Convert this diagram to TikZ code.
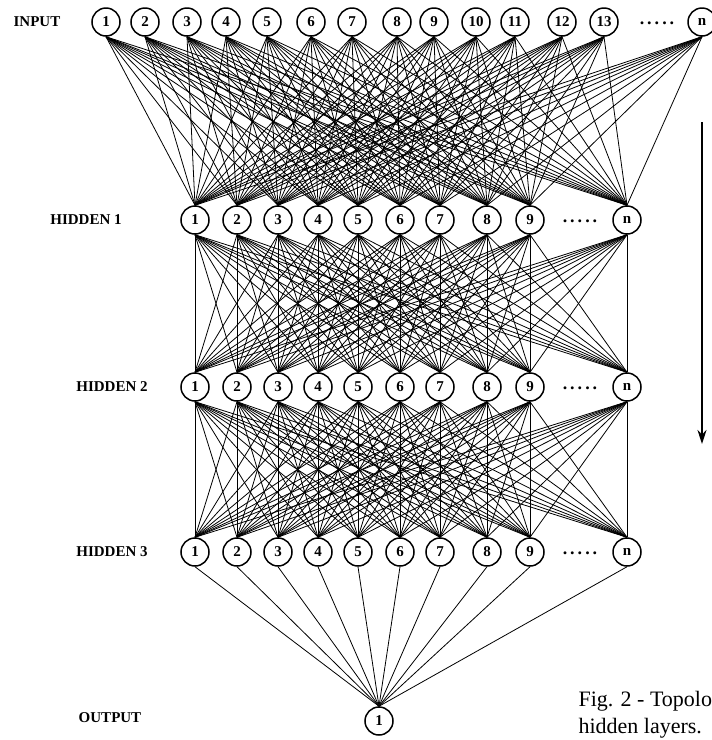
\documentclass[tikz,border=0pt]{standalone}
\usepackage{fontspec}
\setmainfont{Liberation Serif}
\usetikzlibrary{arrows.meta}
\tikzset{neuron/.style={circle,draw,line width=1.5pt,minimum size=28pt,inner sep=0pt,
font=\bfseries\fontsize{15}{15}\selectfont},
layerlabel/.style={font=\bfseries\fontsize{15}{15}\selectfont},
moredots/.style={font=\bfseries\fontsize{18}{18}\selectfont},
synapse/.style={line width=0.8pt},
caption/.style={anchor=base west,font=\fontsize{22}{28}\selectfont}}

\begin{document}
\begin{tikzpicture}[x=1pt,y=-1pt]
    \useasboundingbox (0,0) rectangle (712,740);
    \clip (0,0) rectangle (712,740);
    % layer names
    \node[layerlabel] (name-in) at (37,22) {INPUT};
    \node[layerlabel] (name-h1) at (86,220) {HIDDEN 1};
    \node[layerlabel] (name-h2) at (112,387) {HIDDEN 2};
    \node[layerlabel] (name-h3) at (112,552) {HIDDEN 3};
    \node[layerlabel] (name-out) at (110,718) {OUTPUT};
    % input layer
    \foreach \n/\x in {1/106,2/145,3/187,4/226,5/267,6/311,7/352,8/397,9/434,10/476,11/515,12/562,13/604}
        \node[neuron] (in-\n) at (\x,22) {\n};
    \node[neuron] (in-n) at (702,22) {n};
    \node[moredots] (dots-in) at (657,23) {.\,.\,.\,.\,.};
    % hidden layers
    \foreach \l/\y in {h1/220,h2/387,h3/552}{
        \foreach \n/\x in {1/195,2/237,3/278,4/318,5/358,6/400,7/440,8/487,9/530}
            \node[neuron] (\l-\n) at (\x,\y) {\n};
        \node[neuron] (\l-n) at (627,\y) {n};
        \node[moredots] (dots-\l) at (580,\y+1) {.\,.\,.\,.\,.};
    }
    % output
    \node[neuron] (out-1) at (379,721) {1};
    % links
    \foreach \a in {1,...,13,n}
        \foreach \b in {1,...,9,n}
            \draw[synapse] (in-\a.south) -- (h1-\b.north);
    \foreach \a in {1,...,9,n}
        \foreach \b in {1,...,9,n}{
            \draw[synapse] (h1-\a.south) -- (h2-\b.north);
            \draw[synapse] (h2-\a.south) -- (h3-\b.north);
        }
    \foreach \a in {1,...,9,n}
        \draw[synapse] (h3-\a.south) -- (out-1.north);
    % direction
    \coordinate (flow-top) at (702,122);
    \coordinate (flow-bot) at (702,444);
    \draw[line width=2pt,-{Stealth[length=14pt,width=9pt]}] (flow-top) -- (flow-bot);
    % caption
    \node[caption] (cap-a) at (575,706) {Fig. 2 - Topolo};
    \node[caption] (cap-b) at (575,733) {hidden layers.};
\end{tikzpicture}
\end{document}
